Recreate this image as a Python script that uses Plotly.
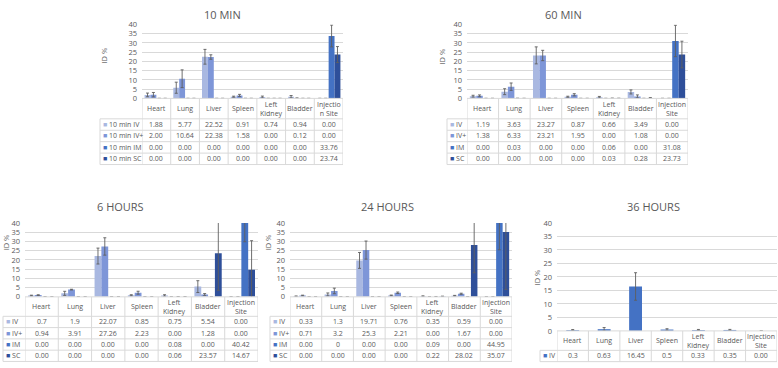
import plotly.graph_objects as go

W, H = 778, 368
FONT = "Open Sans"
TXT = "#595959"
GRID = "#d9d9d9"

categories = ["Heart", "Lung", "Liver", "Spleen", "Left Kidney", "Bladder", "Injection Site"]
header_narrow = ["Heart", "Lung", "Liver", "Spleen", "Left<br>Kidney", "Bladder", "Injectio<br>n Site"]
header_wide = ["Heart", "Lung", "Liver", "Spleen", "Left<br>Kidney", "Bladder", "Injection<br>Site"]

series_keys = ["IV", "IV+", "IM", "SC"]
colors = {"IV": "#a9b8e1", "IV+": "#7e96d8", "IM": "#4472c4", "SC": "#2e4f9a", "IV36": "#4472c4"}
labels_10min = ["10 min IV", "10 min IV+", "10 min IM", "10 min SC"]
labels_std = ["IV", "IV+", "IM", "SC"]
titles = ["10 MIN", "60 MIN", "6 HOURS", "24 HOURS", "36 HOURS"]

# ---- values as printed in the data tables ----
min10_iv = ["1.88", "5.77", "22.52", "0.91", "0.74", "0.94", "0.00"]
min10_ivp = ["2.00", "10.64", "22.38", "1.58", "0.00", "0.12", "0.00"]
min10_im = ["0.00", "0.00", "0.00", "0.00", "0.00", "0.00", "33.76"]
min10_sc = ["0.00", "0.00", "0.00", "0.00", "0.00", "0.00", "23.74"]

min60_iv = ["1.19", "3.63", "23.27", "0.87", "0.66", "3.49", "0.00"]
min60_ivp = ["1.38", "6.33", "23.21", "1.95", "0.00", "1.08", "0.00"]
min60_im = ["0.00", "0.03", "0.00", "0.00", "0.06", "0.00", "31.08"]
min60_sc = ["0.00", "0.00", "0.00", "0.00", "0.03", "0.28", "23.73"]

h6_iv = ["0.7", "1.9", "22.07", "0.85", "0.75", "5.54", "0.00"]
h6_ivp = ["0.94", "3.91", "27.26", "2.23", "0.00", "1.28", "0.00"]
h6_im = ["0.00", "0.00", "0.00", "0.00", "0.08", "0.00", "40.42"]
h6_sc = ["0.00", "0.00", "0.00", "0.00", "0.06", "23.57", "14.67"]

h24_iv = ["0.33", "1.3", "19.71", "0.76", "0.35", "0.59", "0.00"]
h24_ivp = ["0.71", "3.2", "25.3", "2.21", "0.00", "1.67", "0.00"]
h24_im = ["0.00", "0", "0.00", "0.00", "0.09", "0.00", "44.95"]
h24_sc = ["0.00", "0.00", "0.00", "0.00", "0.22", "28.02", "35.07"]

h36_iv = ["0.3", "0.63", "16.45", "0.5", "0.33", "0.35", "0.00"]

# ---- error bars ----
min10_iv_err = [1.0, 3.0, 4.0, 0.3, 0.5, 0.6, None]
min10_ivp_err = [1.2, 4.8, 1.2, 0.6, None, 0.15, None]
min10_im_err = [None, None, None, None, None, None, 5.9]
min10_sc_err = [None, None, None, None, None, None, 4.3]

min60_iv_err = [0.5, 1.6, 4.6, 0.3, 0.4, 1.1, None]
min60_ivp_err = [0.5, 2.0, 2.8, 0.6, None, 0.8, None]
min60_im_err = [None, 0.05, None, None, 0.1, None, 8.5]
min60_sc_err = [None, None, None, None, 0.05, 0.15, 7.2]

h6_iv_err = [0.2, 1.1, 4.3, 0.3, 0.4, 3.2, None]
h6_ivp_err = [0.2, 0.2, 4.7, 0.8, None, 0.5, None]
h6_im_err = [None, None, None, None, 0.05, None, 10.6]
h6_sc_err = [None, None, None, None, 0.05, 20.0, 15.7]

h24_iv_err = [0.15, 0.8, 4.3, 0.2, 0.2, 0.2, None]
h24_ivp_err = [0.2, 1.5, 4.9, 0.4, None, 0.3, None]
h24_im_err = [None, None, None, None, 0.1, None, 19.5]
h24_sc_err = [None, None, None, None, 0.15, 15.0, 31.0]

h36_iv_err = [0.2, 0.6, 5.1, 0.3, 0.2, 0.2, None]

# ---- panel layout (pixel geometry) ----
panels = [
    dict(title=titles[0], header=header_narrow,
         series=[(labels_10min[0], "IV", min10_iv, min10_iv_err),
                 (labels_10min[1], "IV+", min10_ivp, min10_ivp_err),
                 (labels_10min[2], "IM", min10_im, min10_im_err),
                 (labels_10min[3], "SC", min10_sc, min10_sc_err)],
         x0=142, x1=343, ytop=20, ybot=96, hb=117, rh=11.75, leg=100,
         tx=222, ty=10, idx=104, idy=52, width=None),
    dict(title=titles[1], header=header_wide,
         series=[(labels_std[0], "IV", min60_iv, min60_iv_err),
                 (labels_std[1], "IV+", min60_ivp, min60_ivp_err),
                 (labels_std[2], "IM", min60_im, min60_im_err),
                 (labels_std[3], "SC", min60_sc, min60_sc_err)],
         x0=467, x1=688, ytop=20, ybot=96, hb=117, rh=11.75, leg=447,
         tx=563, ty=10, idx=442, idy=53, width=None),
    dict(title=titles[2], header=header_wide,
         series=[(labels_std[0], "IV", h6_iv, h6_iv_err),
                 (labels_std[1], "IV+", h6_ivp, h6_ivp_err),
                 (labels_std[2], "IM", h6_im, h6_im_err),
                 (labels_std[3], "SC", h6_sc, h6_sc_err)],
         x0=25, x1=258, ytop=224, ybot=300, hb=320, rh=11.6, leg=3,
         tx=120, ty=207, idx=6, idy=244, width=None),
    dict(title=titles[3], header=header_wide,
         series=[(labels_std[0], "IV", h24_iv, h24_iv_err),
                 (labels_std[1], "IV+", h24_ivp, h24_ivp_err),
                 (labels_std[2], "IM", h24_im, h24_im_err),
                 (labels_std[3], "SC", h24_sc, h24_sc_err)],
         x0=290, x1=512, ytop=224, ybot=300, hb=320, rh=11.6, leg=270,
         tx=387, ty=207, idx=268, idy=244, width=None),
    dict(title=titles[4], header=header_wide,
         series=[(labels_std[0], "IV36", h36_iv, h36_iv_err)],
         x0=557, x1=777, ytop=224, ybot=335, hb=355, rh=11.6, leg=540,
         tx=653, ty=207, idx=537, idy=280, width=0.41),
]


def px(x):
    return x / W


def py(y):
    return 1 - y / H


fig = go.Figure()
shapes = []
annotations = []
layout_axes = {}

for i, p in enumerate(panels, start=1):
    xa = "x" if i == 1 else f"x{i}"
    ya = "y" if i == 1 else f"y{i}"
    xkey = "xaxis" if i == 1 else f"xaxis{i}"
    ykey = "yaxis" if i == 1 else f"yaxis{i}"

    for label, key, vals, errs in p["series"]:
        fig.add_trace(go.Bar(
            x=categories, y=[float(v) for v in vals],
            marker=dict(color=colors[key], line=dict(width=0)),
            width=p["width"],
            error_y=dict(type="data", array=errs, color="#5f5f5f", thickness=0.9, width=1.5),
            xaxis=xa, yaxis=ya, showlegend=False, hoverinfo="skip", name=label,
        ))

    layout_axes[xkey] = dict(
        domain=[px(p["x0"]), px(p["x1"])], anchor=ya, type="category",
        categoryorder="array", categoryarray=categories, range=[-0.5, 6.5],
        showticklabels=False, showgrid=False, zeroline=False, showline=False, ticks="",
    )
    layout_axes[ykey] = dict(
        domain=[py(p["ybot"]), py(p["ytop"])], anchor=xa, range=[0, 40], dtick=5,
        showgrid=True, gridcolor=GRID, gridwidth=1, zeroline=False, showline=False,
        ticks="", ticklabelstandoff=4, tickfont=dict(size=7.5, color=TXT, family=FONT),
    )

    nrows = len(p["series"])
    tbottom = p["hb"] + nrows * p["rh"]
    line = dict(color=GRID, width=1)

    # header top (axis base) across plot width
    shapes.append(dict(type="line", xref="paper", yref="paper",
                       x0=px(p["x0"]), x1=px(p["x1"]), y0=py(p["ybot"]), y1=py(p["ybot"]), line=line))
    # row lines across legend + plot width
    for r in range(nrows + 1):
        yy = py(p["hb"] + r * p["rh"])
        shapes.append(dict(type="line", xref="paper", yref="paper",
                           x0=px(p["leg"]), x1=px(p["x1"]), y0=yy, y1=yy, line=line))
    # column boundaries
    for k in range(len(categories) + 1):
        shapes.append(dict(type="line", xref=xa, yref="paper",
                           x0=k - 0.5, x1=k - 0.5, y0=py(p["ybot"]), y1=py(tbottom), line=line))
    # legend column left edge
    shapes.append(dict(type="line", xref="paper", yref="paper",
                       x0=px(p["leg"]), x1=px(p["leg"]), y0=py(p["hb"]), y1=py(tbottom), line=line))

    # header text
    for k, h in enumerate(p["header"]):
        annotations.append(dict(xref=xa, yref="paper", x=k, y=py((p["ybot"] + p["hb"]) / 2),
                                text=h, showarrow=False, font=dict(size=7, color=TXT, family=FONT),
                                xanchor="center", yanchor="middle", align="center", borderpad=0))
    # rows
    for r, (label, key, vals, errs) in enumerate(p["series"]):
        yc = py(p["hb"] + (r + 0.5) * p["rh"])
        annotations.append(dict(xref="paper", yref="paper", x=px(p["leg"] + 2), y=yc,
                                text=f"<span style='color:{colors[key]}'>■</span> {label}",
                                showarrow=False, font=dict(size=7, color=TXT, family=FONT),
                                xanchor="left", yanchor="middle", borderpad=0))
        for k, v in enumerate(vals):
            annotations.append(dict(xref=xa, yref="paper", x=k, y=yc, text=v, showarrow=False,
                                    font=dict(size=7, color=TXT, family=FONT),
                                    xanchor="center", yanchor="middle", borderpad=0))

    # title
    annotations.append(dict(xref="paper", yref="paper", x=px(p["tx"]), y=py(p["ty"]), text=p["title"],
                            showarrow=False, font=dict(size=11, color=TXT, family=FONT),
                            xanchor="center", yanchor="middle"))
    # y title
    annotations.append(dict(xref="paper", yref="paper", x=px(p["idx"]), y=py(p["idy"]), text="ID %",
                            showarrow=False, textangle=-90, font=dict(size=7.5, color=TXT, family=FONT),
                            xanchor="center", yanchor="middle"))

fig.update_layout(
    width=W, height=H, margin=dict(l=0, r=0, t=0, b=0),
    paper_bgcolor="white", plot_bgcolor="white",
    barmode="group", bargap=0.18, bargroupgap=0,
    shapes=shapes, annotations=annotations,
    font=dict(family=FONT, color=TXT),
    **layout_axes,
)

fig.write_html("out.html", config={"displayModeBar": False, "staticPlot": True},
               post_script="document.body.style.margin='0';document.body.style.overflow='hidden';")
